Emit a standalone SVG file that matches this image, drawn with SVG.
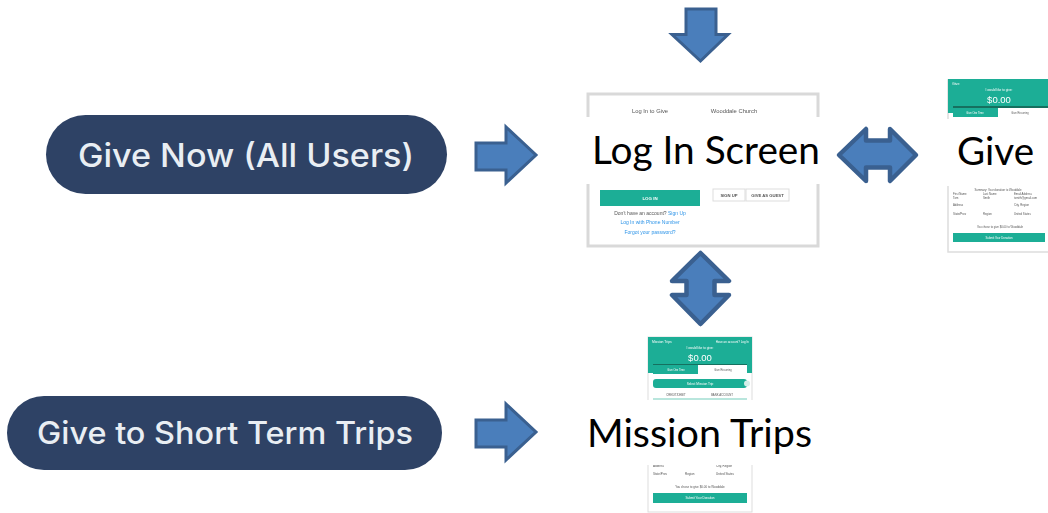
<svg xmlns="http://www.w3.org/2000/svg" width="1048" height="513" viewBox="0 0 1048 513">
<style>
.pill{fill:#2e4265}
.pilltxt{font-family:"Inter","Lato","Liberation Sans",sans-serif;fill:#e9eef3;font-weight:500}
.arrow{fill:#4a7ebb;stroke:#3a6090;stroke-width:3;stroke-linejoin:miter}
.dbl{fill:#4a7ebb;stroke:#3a6090;stroke-width:4.500;stroke-linejoin:round}
.label{font-family:"Lato","Open Sans","Liberation Sans",sans-serif;fill:#000}
.s{font-family:"Liberation Sans",Arial,sans-serif}
.teal{fill:#1eae96}
.wt{fill:#fff}
.dk{fill:#555}
.lnk{fill:#2f95e8}
</style>
<defs>
<filter id="b" x="-5%" y="-5%" width="110%" height="110%"><feGaussianBlur stdDeviation="0.55"/></filter>
<filter id="b2" x="-5%" y="-5%" width="110%" height="110%"><feGaussianBlur stdDeviation="0.7"/></filter>
</defs>
<rect width="1048" height="513" fill="#fff"/>

<g id="give-now">
<rect class="pill" x="46" y="115" width="401" height="79" rx="39.5"/>
<text class="pilltxt" x="78" y="167" font-size="32" textLength="336" lengthAdjust="spacingAndGlyphs">Give Now (All Users)</text>
</g>

<g id="give-trips">
<rect class="pill" x="7" y="396" width="435" height="74" rx="37"/>
<text class="pilltxt" x="37" y="444" font-size="31" textLength="376" lengthAdjust="spacingAndGlyphs">Give to Short Term Trips</text>
</g>

<g id="login-screen">
<g filter="url(#b)">
<rect x="588" y="94" width="230" height="152" fill="#fff" stroke="#d9d9d9" stroke-width="3"/>
<text class="s dk" x="650" y="113" font-size="5.800" text-anchor="middle">Log In to Give</text>
<text class="s dk" x="734" y="113" font-size="5.800" text-anchor="middle">Wooddale Church</text>
<rect class="teal" x="600" y="190" width="100" height="16"/>
<text class="s wt" x="650" y="200" font-size="4.400" text-anchor="middle" font-weight="700">LOG IN</text>
<rect x="713" y="189" width="32" height="12" fill="#fff" stroke="#ddd"/>
<rect x="746" y="189" width="43" height="12" fill="#fff" stroke="#ddd"/>
<text class="s dk" x="729" y="197" font-size="4.200" text-anchor="middle" font-weight="700">SIGN UP</text>
<text class="s dk" x="767.500" y="197" font-size="4.200" text-anchor="middle" font-weight="700">GIVE AS GUEST</text>
<text class="s" x="650" y="214.500" font-size="5" text-anchor="middle"><tspan fill="#555">Don't have an account? </tspan><tspan fill="#2f95e8">Sign Up</tspan></text>
<text class="s lnk" x="650" y="224" font-size="5" text-anchor="middle">Log In with Phone Number</text>
<text class="s lnk" x="650" y="234" font-size="5" text-anchor="middle">Forgot your password?</text>
</g>
<rect x="586" y="117" width="234" height="67" fill="#fff"/>
<text class="label" x="592" y="164" font-size="38" textLength="228" lengthAdjust="spacingAndGlyphs">Log In Screen</text>
</g>

<g id="give-screen">
<g filter="url(#b)">
<rect x="948" y="80" width="102" height="172" fill="#fff" stroke="#ddd" stroke-width="1.500"/>
<rect class="teal" x="948" y="79" width="100" height="34"/>
<rect x="953" y="106" width="95" height="2" fill="#16705f"/>
<rect class="teal" x="953" y="108" width="45" height="9"/>
<rect class="wt" x="998" y="108" width="50" height="9"/>
<text class="s wt" x="952" y="85" font-size="3.600">Give</text>
<text class="s wt" x="999" y="91" font-size="3.200" text-anchor="middle">I would like to give:</text>
<text class="s wt" x="999" y="102.500" font-size="9.500" text-anchor="middle">$0.00</text>
<text class="s wt" x="975" y="113.500" font-size="2.600" text-anchor="middle">Give One Time</text>
<text class="s dk" x="1020" y="113.500" font-size="2.600" text-anchor="middle">Give Recurring</text>
<g class="s dk" font-size="2.800">
<text x="998" y="191" text-anchor="middle">Summary: Your donation to Wooddale</text>
<text x="953" y="195">First Name</text><text x="983" y="195">Last Name</text><text x="1014" y="195">Email Address</text>
<text x="953" y="199">Tom</text><text x="983" y="199">Smith</text><text x="1014" y="199">tsmith@gmail.com</text>
<text x="953" y="206">Address</text><text x="1014" y="206">City, Region</text>
<text x="953" y="215">State/Prov</text><text x="983" y="215">Region</text><text x="1014" y="215">United States</text>
<text x="1000" y="228" text-anchor="middle">You chose to give $0.00 to Wooddale</text>
</g>
<rect class="teal" x="953" y="233" width="92" height="9"/>
<text class="s wt" x="999" y="238.500" font-size="2.800" text-anchor="middle">Submit Your Donation</text>
</g>
<rect x="946" y="119" width="102" height="67" fill="#fff"/>
<text class="label" x="957" y="165" font-size="38" textLength="77" lengthAdjust="spacingAndGlyphs">Give</text>
</g>

<g id="mission-trips">
<g filter="url(#b2)">
<rect x="648" y="337" width="104" height="175" fill="#fff" stroke="#ddd" stroke-width="1"/>
<rect class="teal" x="648" y="337" width="104" height="36"/>
<rect x="653" y="364" width="94" height="1.500" fill="#16705f"/>
<rect class="teal" x="653" y="365" width="45" height="9"/>
<rect class="wt" x="698" y="365" width="49" height="9"/>
<text class="s wt" x="652" y="343" font-size="3.400">Mission Trips</text>
<text class="s wt" x="749" y="343" font-size="3" text-anchor="end">Have an account? Log In</text>
<text class="s wt" x="700" y="349" font-size="3.200" text-anchor="middle">I would like to give:</text>
<text class="s wt" x="700" y="361" font-size="9.500" text-anchor="middle">$0.00</text>
<text class="s wt" x="676" y="371" font-size="2.600" text-anchor="middle">Give One Time</text>
<text class="s dk" x="723" y="371" font-size="2.600" text-anchor="middle">Give Recurring</text>
<rect class="teal" x="653" y="379" width="94" height="9" rx="3"/>
<circle cx="747" cy="383.500" r="3" fill="#d5efe9"/>
<text class="s wt" x="700" y="385" font-size="3.200" text-anchor="middle">Select Mission Trip</text>
<text class="s dk" x="676" y="395.500" font-size="2.800" text-anchor="middle">CREDIT/DEBIT</text>
<text class="s dk" x="722" y="395.500" font-size="2.800" text-anchor="middle">BANK ACCOUNT</text>
<rect x="653" y="398" width="94" height="2" fill="#b9e6dd"/>
<rect class="teal" x="653" y="493" width="94" height="10"/>
<g class="s dk" font-size="3">
<text x="653" y="467">Address</text><text x="716" y="467">City, Region</text>
<text x="653" y="475">State/Prov</text><text x="685" y="475">Region</text><text x="716" y="475">United States</text>
<text x="700" y="488" text-anchor="middle">You chose to give $0.00 to Wooddale</text>
</g>
<text class="s wt" x="700" y="499" font-size="3" text-anchor="middle">Submit Your Donation</text>
</g>
<rect x="645" y="400" width="110" height="65" fill="#fff"/>
<text class="label" x="587" y="447" font-size="38" textLength="225" lengthAdjust="spacingAndGlyphs">Mission Trips</text>
</g>

<g id="connectors">
<polygon class="arrow" points="686,9 716,9 716,34.500 728,34.500 700.500,61 672,34.500 686,34.500"/>
<polygon class="arrow" points="476,143 506,143 506,127 536,155 506,183 506,170 476,170"/>
<polygon class="arrow" points="476,420 506,420 506,404 536,432 506,460 506,447 476,447"/>
<polygon class="dbl" points="839,155 866,129 866,140.500 890,140.500 890,129 916,155 890,181 890,167.500 866,167.500 866,181"/>
<polygon class="dbl" points="700.500,253 729,281 714.500,281 714.500,295 729,295 700.500,324 672,295 686.500,295 686.500,281 672,281"/>
</g>
</svg>
